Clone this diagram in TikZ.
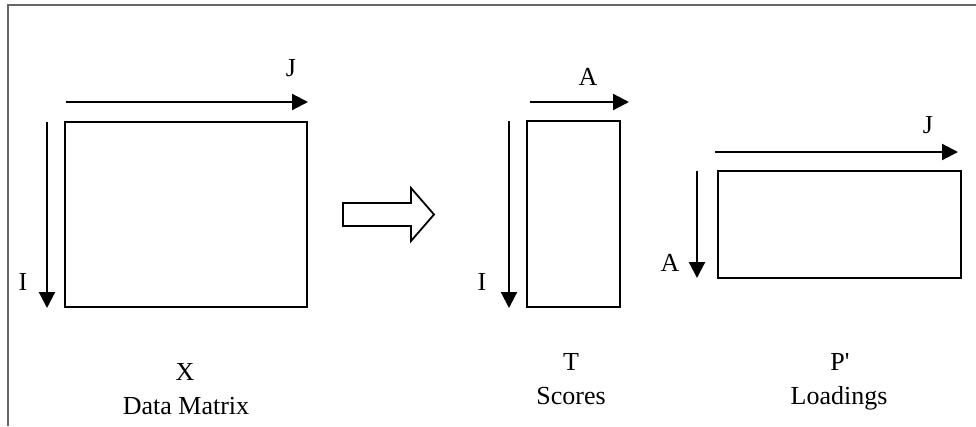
\documentclass[tikz,border=0pt]{standalone}
\usepackage{fontspec}
\setmainfont{Liberation Serif}
% a family without the TeX quote mapping, so that ' stays straight
\newfontfamily\labelfont{Liberation Serif}
\usetikzlibrary{arrows.meta}
\begin{document}
\begin{tikzpicture}[x=1pt,y=-1pt,
  matrixbox/.style={draw, line width=2.2pt, inner sep=0pt, minimum width=#1},
  axis/.style={line width=2.2pt, -{Triangle[length=16pt,width=16pt]}},
  lbl/.style={font=\labelfont\fontsize{26}{30}\selectfont, inner sep=0pt},
  captext/.style={font=\labelfont\fontsize{26}{30}\selectfont, inner sep=0pt, anchor=base}]
\useasboundingbox (0,0) rectangle (976,426);
% frame
\draw[gray!80!black, line width=1.3pt] (8,426) -- (8,5) -- (976,5);

% data matrix X
\node[matrixbox=242pt, minimum height=185pt] (X) at (186,214.5) {};
\coordinate (xj0) at (66,102);  \coordinate (xj1) at (308,102);
\coordinate (xi0) at (47,122);  \coordinate (xi1) at (47,308);
\draw[axis] (xj0) -- (xj1);
\draw[axis] (xi0) -- (xi1);
\node[lbl] (xJ) at (291,68) {J};
\node[lbl] (xI) at (23,282) {I};
\node[captext] (xname) at (185,380) {X};
\node[captext] (xdesc) at (186,414) {Data Matrix};

% decomposition arrow
\draw[line width=1.8pt, fill=white]
  (343,203) -- (411,203) -- (411,188) -- (434,214.5) -- (411,241)
  -- (411,226) -- (343,226) -- cycle;

% scores T
\node[matrixbox=93pt, minimum height=186pt] (T) at (573.5,214) {};
\coordinate (ta0) at (530,102); \coordinate (ta1) at (629,102);
\coordinate (ti0) at (509,121); \coordinate (ti1) at (509,308);
\draw[axis] (ta0) -- (ta1);
\draw[axis] (ti0) -- (ti1);
\node[lbl] (tA) at (588,77) {A};
\node[lbl] (tI) at (482,282) {I};
\node[captext] (tname) at (571,370) {T};
\node[captext] (tdesc) at (571,404) {Scores};

% loadings P'
\node[matrixbox=243pt, minimum height=107pt] (P) at (839.5,224.5) {};
\coordinate (pj0) at (715,152); \coordinate (pj1) at (958,152);
\coordinate (pa0) at (697,171); \coordinate (pa1) at (697,278);
\draw[axis] (pj0) -- (pj1);
\draw[axis] (pa0) -- (pa1);
\node[lbl] (pJ) at (928,125) {J};
\node[lbl] (pA) at (670,263) {A};
\node[captext] (pname) at (840,370) {P'};
\node[captext] (pdesc) at (839,404) {Loadings};
\end{tikzpicture}
\end{document}
